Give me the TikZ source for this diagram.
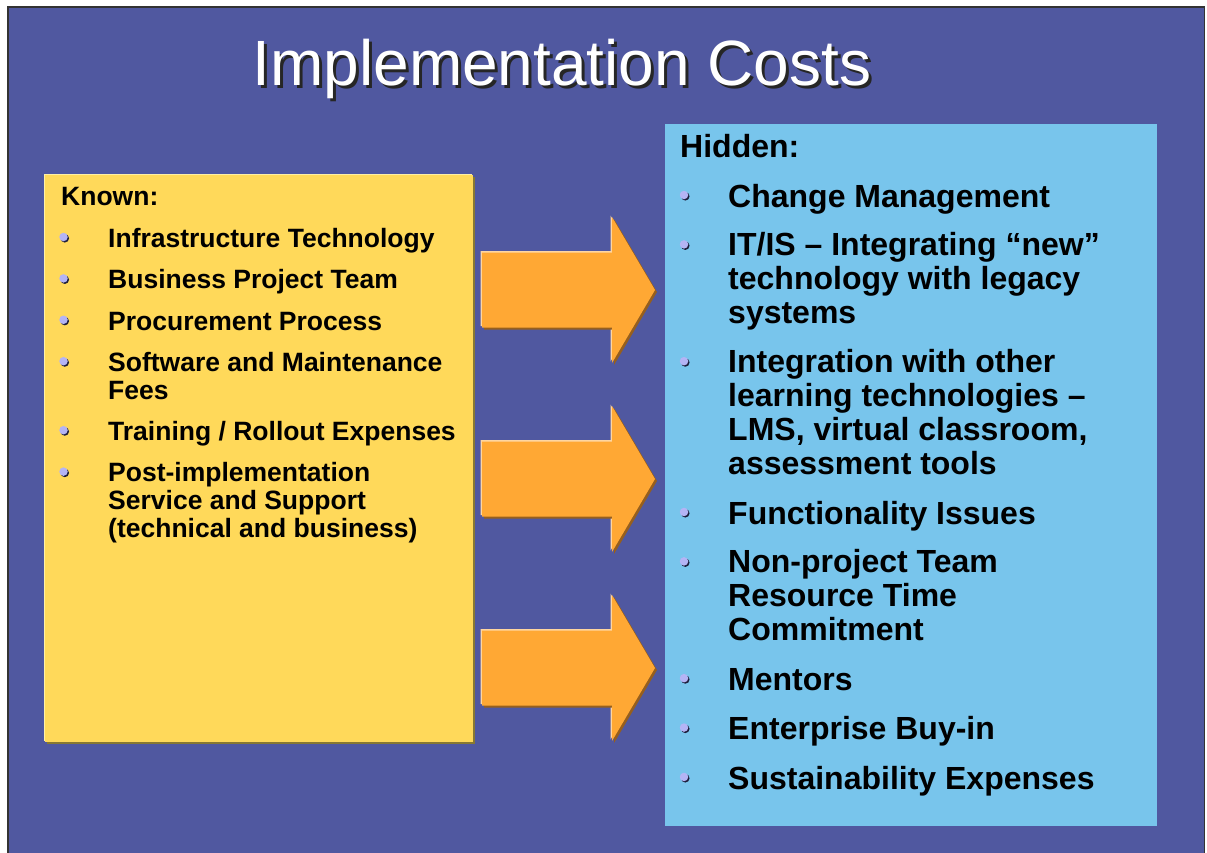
\documentclass[tikz,border=0pt]{standalone}
\usepackage{fontspec}
\setmainfont{Liberation Sans}
\usetikzlibrary{positioning,calc,shadows}

\definecolor{slidebg}{RGB}{80,88,160}
\definecolor{knownfill}{RGB}{255,217,90}
\definecolor{knownlight}{RGB}{255,240,165}
\definecolor{knowndark}{RGB}{135,120,50}
\definecolor{hiddenfill}{RGB}{120,197,236}
\definecolor{arrowfill}{RGB}{255,168,52}
\definecolor{arrowlight}{RGB}{255,214,160}
\definecolor{arrowdark}{RGB}{150,95,30}
\definecolor{dotfill}{RGB}{180,180,245}
\definecolor{dotdark}{RGB}{30,30,60}

% white title with a dark offset copy behind it
\newcommand\shadowedtitle[1]{\makebox[0pt][l]{\kern3pt\raisebox{-3pt}{\textcolor{black!85}{#1}}}#1}

\begin{document}
\begin{tikzpicture}[x=1pt,y=-1pt,
    panel/.style={rectangle,inner sep=0pt,anchor=north west},
    lit/.style={general shadow={shadow xshift=-1.5pt,shadow yshift=1.5pt,fill=#1}},
    dim/.style={general shadow={shadow xshift=2pt,shadow yshift=-2pt,fill=#1}},
    title/.style={font=\fontsize{64}{70}\selectfont,text=white,inner sep=0pt,anchor=base},
    head/.style={inner sep=0pt,anchor=base west,font=\bfseries},
    known/.style={inner sep=0pt,align=left,font=\fontsize{26.5}{28}\selectfont\bfseries,
      execute at begin node=\strut,execute at end node=\strut},
    hidden/.style={known,font=\fontsize{32}{34}\selectfont\bfseries},
    dot/.style={circle,fill=dotfill,inner sep=0pt,minimum size=8.5pt,
      general shadow={shadow xshift=1.3pt,shadow yshift=-1.3pt,fill=dotdark}},
    bigarrow/.style={fill=arrowfill,lit=arrowlight,dim=arrowdark}
]

\fill[white] (0,0) rectangle (1207,852);
\useasboundingbox (0,0) rectangle (1207,852);
\filldraw[fill=slidebg,draw=black!80,line width=1.2pt] (8,7) rectangle (1204.5,860);

\node[title] (title) at (562,85) {\shadowedtitle{Implementation Costs}};

% the two panels
\node[panel,fill=knownfill,lit=knownlight,dim=knowndark,
  minimum width=428pt,minimum height=567pt] (knownbox) at (45,175) {};
\node[panel,fill=hiddenfill,minimum width=492pt,minimum height=702pt] (hiddenbox) at (665,124) {};

% block arrows between the panels
\foreach \c in {290,479,668}
  \path[bigarrow] (482,\c-37.5) -- (612,\c-37.5) -- (612,\c-73) -- (655,\c)
    -- (612,\c+73) -- (612,\c+37.5) -- (482,\c+37.5) -- cycle;

% known costs
\node[head,font=\fontsize{26.5}{28}\selectfont\bfseries] (knownhead) at (61,205) {Known:};
\node[known,anchor=north west] (k1) at (108,227.4) {Infrastructure Technology};
\node[known,below=13pt of k1.south west,anchor=north west] (k2) {Business Project Team};
\node[known,below=13pt of k2.south west,anchor=north west] (k3) {Procurement Process};
\node[known,below=13pt of k3.south west,anchor=north west] (k4) {Software and Maintenance\\Fees};
\node[known,below=13pt of k4.south west,anchor=north west] (k5) {Training / Rollout Expenses};
\node[known,below=13pt of k5.south west,anchor=north west] (k6) {Post-implementation\\Service and Support\\(technical and business)};
\foreach \i in {1,...,6}
  \node[dot] (kdot\i) at ($(k\i.north west)+(-44.5,9.6)$) {};

% hidden costs
\node[head,font=\fontsize{32}{34}\selectfont\bfseries] (hiddenhead) at (680,157) {Hidden:};
\node[hidden,anchor=north west] (h1) at (728,183.2) {Change Management};
\node[hidden,below=15pt of h1.south west,anchor=north west] (h2) {IT/IS – Integrating “new”\\technology with legacy\\systems};
\node[hidden,below=15pt of h2.south west,anchor=north west] (h3) {Integration with other\\learning technologies –\\LMS, virtual classroom,\\assessment tools};
\node[hidden,below=15pt of h3.south west,anchor=north west] (h4) {Functionality Issues};
\node[hidden,below=15pt of h4.south west,anchor=north west] (h5) {Non-project Team\\Resource Time\\Commitment};
\node[hidden,below=15pt of h5.south west,anchor=north west] (h6) {Mentors};
\node[hidden,below=15pt of h6.south west,anchor=north west] (h7) {Enterprise Buy-in};
\node[hidden,below=15pt of h7.south west,anchor=north west] (h8) {Sustainability Expenses};
\foreach \i in {1,...,8}
  \node[dot] (hdot\i) at ($(h\i.north west)+(-44,11.8)$) {};

\end{tikzpicture}
\end{document}
